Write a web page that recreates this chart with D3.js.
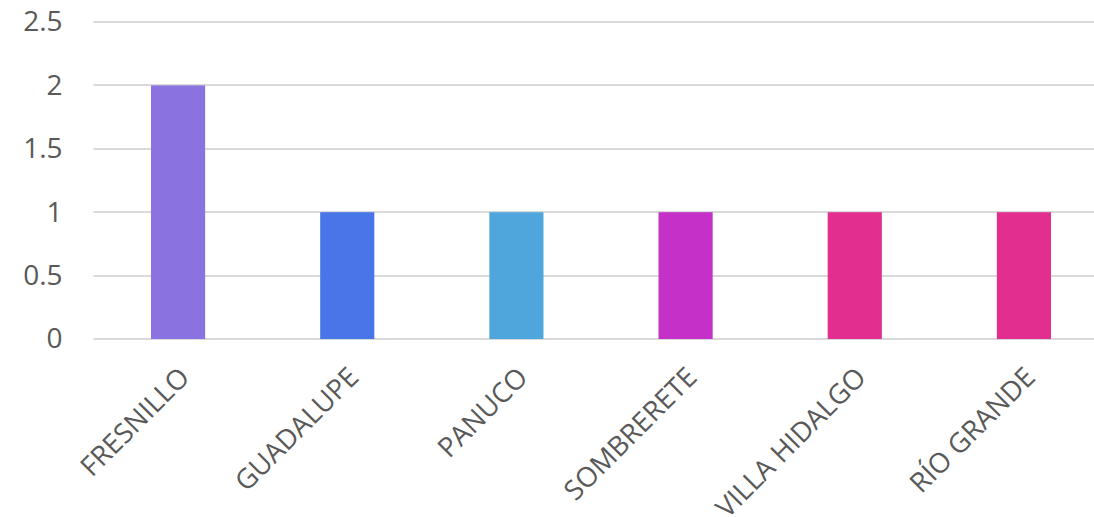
<!DOCTYPE html>
<html><head><meta charset="utf-8">
<script src="https://cdn.jsdelivr.net/npm/d3@7"></script>
<style>body{margin:0;background:#fff}svg{display:block}</style>
</head><body>
<svg id="c" width="1094" height="517"></svg>
<script>
const categories = ["FRESNILLO","GUADALUPE","PANUCO","SOMBRERETE","VILLA HIDALGO","RÍO GRANDE"];
const values = [2,1,1,1,1,1];
const colors = ["#8A73E0","#4875E8","#4FA6DC","#C530C9","#E22E8F","#E22E8F"];
const yTicks = [0,0.5,1,1.5,2,2.5];

(function(){
const svg = d3.select("#c");
const mLeft = 93.5, mRight = 1094, mTop = 22, mBottom = 339;
const font = "'Open Sans', sans-serif";

const x = d3.scaleBand().domain(categories).range([mLeft, mLeft + 1015]).paddingInner(0.68).paddingOuter(0.34);
const y = d3.scaleLinear().domain([0, 2.5]).range([mBottom, mTop]);

svg.selectAll("line.grid").data(yTicks).enter().append("line")
  .attr("x1", mLeft).attr("x2", mRight)
  .attr("y1", d => Math.round(y(d))).attr("y2", d => Math.round(y(d)))
  .attr("stroke", "#d9d9d9").attr("stroke-width", 2);

const yAxis = d3.axisLeft(y).tickValues(yTicks).tickSize(0).tickPadding(31).tickFormat(d3.format("~g"));
const ya = svg.append("g").attr("transform", `translate(${mLeft},0)`).call(yAxis);
ya.select(".domain").remove();
ya.selectAll("text").attr("font-family", font).attr("font-size", 28).attr("fill", "#595959");

svg.selectAll("rect.bar").data(categories).enter().append("rect")
  .attr("x", d => x(d)).attr("width", x.bandwidth())
  .attr("y", (d,i) => y(values[i])).attr("height", (d,i) => y(0) - y(values[i]))
  .attr("fill", (d,i) => colors[i]);

const xAxis = d3.axisBottom(x).tickSize(0).tickPadding(0);
const xa = svg.append("g").attr("transform", `translate(0,${mBottom})`).call(xAxis);
xa.select(".domain").remove();
xa.selectAll("text")
  .attr("font-family", font).attr("font-size", 27.5).attr("fill", "#595959")
  .attr("text-anchor", "end").attr("dy", null).attr("y", 0)
  .attr("transform", "translate(13,40) rotate(-45)");
})();
</script>
</body></html>
